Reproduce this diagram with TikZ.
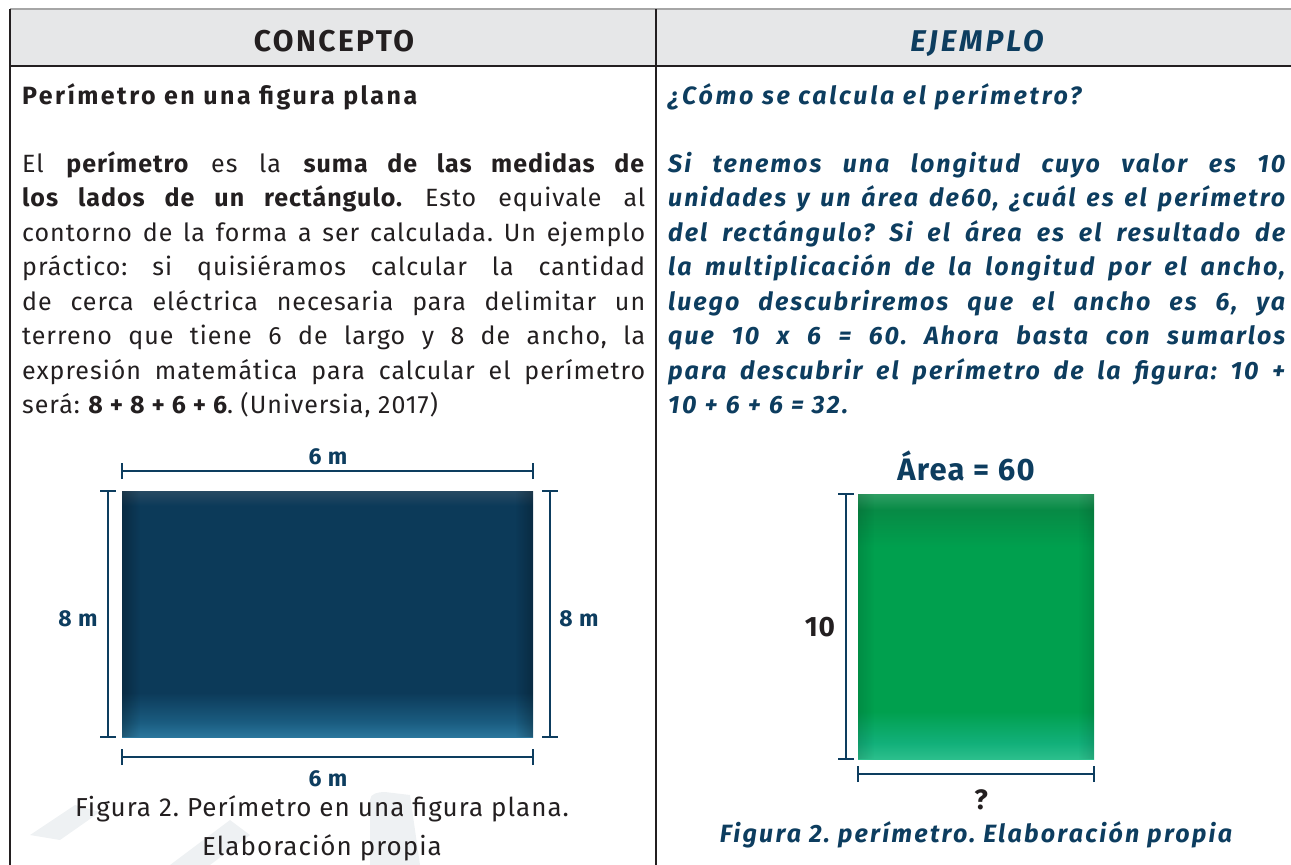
\documentclass[tikz,border=0pt]{standalone}
\usepackage{fontspec}
\setmainfont{Fira Sans}
\usetikzlibrary{fadings}
\frenchspacing
\definecolor{navy}{HTML}{0D3D5F}
\definecolor{ink}{HTML}{231F20}
\definecolor{hdr}{HTML}{E6E7E8}
\definecolor{bA}{HTML}{2A769C}
\definecolor{bB}{HTML}{1A5C80}
\definecolor{bC}{HTML}{0C3A59}
\definecolor{bD}{HTML}{274A63}
\definecolor{gA}{HTML}{2CBF8C}
\definecolor{gB}{HTML}{12B07A}
\definecolor{gC}{HTML}{00A04E}
\definecolor{gD}{HTML}{078A45}
\definecolor{gE}{HTML}{2E9E63}
\definecolor{wm}{HTML}{EEF1F3}
\pgfdeclareverticalshading{blueshade}{100bp}{color(0bp)=(bA); color(25bp)=(bA); color(28bp)=(bB); color(34bp)=(bC); color(72bp)=(bC); color(75bp)=(bD); color(100bp)=(bD)}
\pgfdeclareverticalshading{greenshade}{100bp}{color(0bp)=(gA); color(25bp)=(gA); color(28bp)=(gB); color(34bp)=(gC); color(65bp)=(gC); color(72bp)=(gD); color(75bp)=(gE); color(100bp)=(gE)}
\newlength\natw
\newcommand\fitline[2]{\settowidth\natw{#2}\ifdim\natw>#1\relax\resizebox{#1}{\height}{#2}\else\makebox[#1][s]{#2}\fi}
\newcommand\jl[1]{\fitline{623pt}{#1}}
\newcommand\jr[1]{\fitline{617pt}{#1}}
\newcommand\lsp[1]{\addfontfeatures{LetterSpace=#1}}
\tikzset{
  body/.style={anchor=base west, inner sep=0, font=\fontsize{25}{30}\selectfont\lsp{4}, text=ink},
  ex/.style={anchor=base west, inner sep=0, font=\fontsize{25}{30}\selectfont\bfseries\itshape\lsp{8}, text=navy},
  dimline/.style={draw=navy, line width=2.6pt},
  dimlbl/.style={font=\fontsize{23}{27}\selectfont\bfseries\lsp{4}, text=navy, inner sep=0},
  grid/.style={draw=ink, line width=1.2pt},
}
\begin{document}
\begin{tikzpicture}[x=1pt,y=-1pt]
\useasboundingbox (0,0) rectangle (1291,865);
% watermark
\fill[wm] (370,865) -- (370,800) to[out=90,in=180] (385,792) -- (410,795) -- (420,865) -- cycle;
\fill[wm] (30,835) -- (75,805) -- (100,812) -- (60,840) -- cycle;
\fill[wm] (170,865) -- (230,820) -- (250,835) -- (210,865) -- cycle;
% table
\fill[hdr] (10,9) rectangle (1291,66);
\draw[draw=gray!70, line width=1.6pt] (10,9) -- (1291,9);
\draw[grid] (10,9) -- (10,865);
\draw[grid] (656,9) -- (656,865);
\draw[grid] (10,66) -- (1291,66);
\node[font=\fontsize{30}{34}\selectfont\bfseries\lsp{8}, text=ink, anchor=base] (h1) at (334,51) {CONCEPTO};
\node[font=\fontsize{30}{34}\selectfont\bfseries\itshape\lsp{10}, text=navy, anchor=base] (h2) at (977,51) {EJEMPLO};
% left text
\node[body, font=\fontsize{25}{30}\selectfont\bfseries\lsp{10}] (t0) at (22,104) {Perímetro en una figura plana};
\node[body] (l1) at (22,172) {\jl{El \textbf{perímetro} es la \textbf{suma de las medidas de}}};
\node[body] (l2) at (22,206.5) {\jl{\textbf{los lados de un rectángulo.} Esto equivale al}};
\node[body] (l3) at (22,241) {\jl{contorno de la forma a ser calculada. Un ejemplo}};
\node[body] (l4) at (22,275.5) {\jl{práctico: si quisiéramos calcular la cantidad}};
\node[body] (l5) at (22,310) {\jl{de cerca eléctrica necesaria para delimitar un}};
\node[body] (l6) at (22,344.5) {\jl{terreno que tiene 6 de largo y 8 de ancho, la}};
\node[body] (l7) at (22,379) {\jl{expresión matemática para calcular el perímetro}};
\node[body] (l8) at (22,413.5) {será: \textbf{8 + 8 + 6 + 6}. (Universia, 2017)};
% right text
\node[ex, font=\fontsize{25}{30}\selectfont\bfseries\itshape\lsp{11}] (r0) at (668,104) {¿Cómo se calcula el perímetro?};
\node[ex] (r1) at (668,172) {\jr{Si tenemos una longitud cuyo valor es 10}};
\node[ex] (r2) at (668,206.5) {\jr{unidades y un área de60, ¿cuál es el perímetro}};
\node[ex] (r3) at (668,241) {\jr{del rectángulo? Si el área es el resultado de}};
\node[ex] (r4) at (668,275.5) {\jr{la multiplicación de la longitud por el ancho,}};
\node[ex] (r5) at (668,310) {\jr{luego descubriremos que el ancho es 6, ya}};
\node[ex] (r6) at (668,344.5) {\jr{que 10 x 6 = 60. Ahora basta con sumarlos}};
\node[ex] (r7) at (668,379) {\jr{para descubrir el perímetro de la figura: 10 +}};
\node[ex, font=\fontsize{25}{30}\selectfont\bfseries\itshape\lsp{10}] (r8) at (668,413.5) {10 + 6 + 6 = 32.};
% blue rectangle
\shade[shading=blueshade] (122,491) rectangle (533,737);
\fill[black, opacity=0.25, path fading=east] (122,491) rectangle (140,737);
\fill[black, opacity=0.25, path fading=west] (515,491) rectangle (533,737);
\coordinate (a1) at (122,471); \coordinate (a2) at (533,471);
\draw[dimline] (a1) -- (a2);
\draw[dimline] ([yshift=-8pt]a1) -- ([yshift=8pt]a1);
\draw[dimline] ([yshift=-8pt]a2) -- ([yshift=8pt]a2);
\coordinate (b1) at (122,757); \coordinate (b2) at (533,757);
\draw[dimline] (b1) -- (b2);
\draw[dimline] ([yshift=-8pt]b1) -- ([yshift=8pt]b1);
\draw[dimline] ([yshift=-8pt]b2) -- ([yshift=8pt]b2);
\coordinate (c1) at (108,491); \coordinate (c2) at (108,737);
\draw[dimline] (c1) -- (c2);
\draw[dimline] ([xshift=-8pt]c1) -- ([xshift=8pt]c1);
\draw[dimline] ([xshift=-8pt]c2) -- ([xshift=8pt]c2);
\coordinate (d1) at (550,491); \coordinate (d2) at (550,737);
\draw[dimline] (d1) -- (d2);
\draw[dimline] ([xshift=-8pt]d1) -- ([xshift=8pt]d1);
\draw[dimline] ([xshift=-8pt]d2) -- ([xshift=8pt]d2);
\node[dimlbl] (la) at (328,457) {6 m};
\node[dimlbl] (lb) at (328,779) {6 m};
\node[dimlbl] (lc) at (78,619) {8 m};
\node[dimlbl] (ld) at (579,619) {8 m};
\node[font=\fontsize{26}{30}\selectfont\lsp{4}, text=ink, inner sep=0] (cap1) at (322,809) {Figura 2. Perímetro en una figura plana.};
\node[font=\fontsize{26}{30}\selectfont\lsp{4}, text=ink, inner sep=0] (cap2) at (322,848) {Elaboración propia};
% green rectangle
\shade[shading=greenshade] (858,494) rectangle (1094,759);
\fill[black, opacity=0.12, path fading=east] (858,494) rectangle (874,759);
\fill[black, opacity=0.12, path fading=west] (1078,494) rectangle (1094,759);
\node[font=\fontsize{31}{34}\selectfont\bfseries\lsp{4}, text=navy, inner sep=0] (area) at (966,466) {Área = 60};
\coordinate (e1) at (846,494); \coordinate (e2) at (846,759);
\draw[dimline] (e1) -- (e2);
\draw[dimline] ([xshift=-8pt]e1) -- ([xshift=8pt]e1);
\draw[dimline] ([xshift=-8pt]e2) -- ([xshift=8pt]e2);
\coordinate (f1) at (858,774); \coordinate (f2) at (1094,774);
\draw[dimline] (f1) -- (f2);
\draw[dimline] ([yshift=-8pt]f1) -- ([yshift=8pt]f1);
\draw[dimline] ([yshift=-8pt]f2) -- ([yshift=8pt]f2);
\node[font=\fontsize{28}{32}\selectfont\bfseries\lsp{3}, text=ink, inner sep=0] (ten) at (820,627) {10};
\node[font=\fontsize{28}{32}\selectfont\bfseries, text=ink, inner sep=0] (q) at (981,800) {?};
\node[font=\fontsize{25}{30}\selectfont\bfseries\itshape\lsp{9}, text=navy, inner sep=0] (cap3) at (976,835) {Figura 2. perímetro. Elaboración propia};
\end{tikzpicture}
\end{document}
